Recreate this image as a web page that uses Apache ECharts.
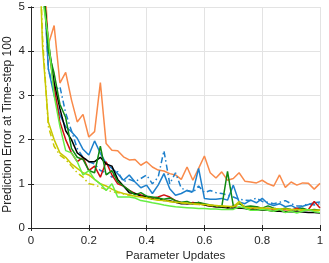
<!DOCTYPE html>
<html><head><meta charset="utf-8">
<script src="https://cdn.jsdelivr.net/npm/echarts@6/dist/echarts.min.js"></script>
<style>html,body{margin:0;padding:0;background:#fff}#c{width:329px;height:263px}</style>
</head><body><div id="c"></div>
<script>
const xs = [0.02,0.04,0.06,0.08,0.10,0.12,0.14,0.16,0.18,0.20,0.22,0.24,0.26,0.28,0.30,0.32,0.34,0.36,0.38,0.40,0.42,0.44,0.46,0.48,0.50,0.52,0.54,0.56,0.58,0.60,0.62,0.64,0.66,0.68,0.70,0.72,0.74,0.76,0.78,0.80,0.82,0.84,0.86,0.88,0.90,0.92,0.94,0.96,0.98,1.00];
const xTicks = [0,0.2,0.4,0.6,0.8,1];
const yTicks = [0,1,2,3,4,5];
const orange = [9,6.5,4.15,4.58,3.28,3.52,2.90,2.40,2.57,2.06,2.18,3.29,1.91,1.76,1.75,1.61,1.54,1.55,1.42,1.50,1.38,1.31,1.29,1.23,1.20,1.10,1.38,1.08,1.35,1.63,1.25,1.13,1.27,1.08,1.12,1.25,1.06,1.04,1.02,1.08,1.00,0.95,1.20,0.92,1.04,0.97,1.02,1.01,0.88,1.01];
const blue = [9,6.0,3.6,3.0,2.56,2.29,2.18,2.03,1.78,1.65,1.97,1.69,1.46,1.35,1.23,1.08,1.20,1.04,0.91,0.97,0.78,0.97,1.23,0.89,0.74,0.78,0.85,0.82,1.35,0.67,0.65,0.65,0.67,0.63,0.97,0.59,0.55,0.63,0.57,0.67,0.55,0.51,0.55,0.48,0.51,0.44,0.49,0.53,0.57,0.59];
const blueDash = [9,6.2,3.6,3.1,3.2,2.6,2.2,1.8,1.6,1.5,1.45,1.3,1.25,1.15,1.28,1.05,1.1,1.05,1.12,1.2,1.0,1.15,1.75,1.0,1.25,0.9,0.85,0.8,0.95,0.8,0.85,0.8,0.78,0.75,0.7,0.65,0.63,0.62,0.68,0.6,0.58,0.55,0.58,0.62,0.55,0.5,0.5,0.55,0.52,0.55];
const green = [9,5.8,4.0,3.5,2.8,2.5,1.8,1.6,1.55,1.3,1.25,1.85,1.2,1.3,1.05,0.95,0.85,0.75,0.8,0.72,0.7,0.68,0.65,0.68,0.62,0.58,0.6,0.55,0.58,0.55,0.52,0.5,0.48,1.28,0.5,0.55,0.48,0.5,0.48,0.45,0.5,0.45,0.42,0.45,0.42,0.4,0.45,0.4,0.42,0.4];
const red = [9,5.6,4.1,3.2,2.4,2.0,1.7,1.5,1.6,1.3,1.4,1.15,1.5,1.2,1.0,0.95,0.85,0.78,0.75,0.7,0.68,0.7,0.75,0.7,0.62,0.58,0.55,0.58,0.55,0.52,0.5,0.48,0.5,0.45,0.5,0.45,0.45,0.42,0.48,0.42,0.45,0.42,0.4,0.42,0.4,0.45,0.4,0.42,0.6,0.45];
const black = [9,5.6,4.2,3.3,2.7,2.2,2.0,1.7,1.6,1.5,1.5,1.6,1.45,1.4,1.1,0.95,0.8,0.78,0.72,0.72,0.65,0.68,0.62,0.62,0.58,0.55,0.55,0.55,0.58,0.52,0.5,0.48,0.47,0.46,0.45,0.45,0.44,0.42,0.42,0.4,0.4,0.38,0.38,0.37,0.37,0.36,0.36,0.35,0.35,0.34];
const yellow = [8,4.1,2.4,2.0,1.7,1.6,1.45,1.35,1.25,1.2,1.1,1.0,0.95,0.88,0.82,0.78,0.75,0.72,0.7,0.68,0.65,0.63,0.62,0.6,0.58,0.57,0.56,0.55,0.54,0.53,0.52,0.51,0.5,0.49,0.48,0.6,0.47,0.46,0.45,0.45,0.44,0.44,0.43,0.43,0.42,0.42,0.41,0.41,0.4,0.4];
const yellowDash = [8,4.3,2.3,1.85,1.65,1.55,1.4,1.25,1.15,1.0,0.98,0.92,0.87,0.82,0.8,0.77,0.74,0.72,0.7,0.68,0.66,0.64,0.62,0.6,0.58,0.57,0.55,0.54,0.53,0.52,0.51,0.5,0.49,0.48,0.47,0.55,0.46,0.45,0.44,0.44,0.43,0.43,0.42,0.42,0.41,0.41,0.4,0.4,0.39,0.39];
const lightGreen = [9,5.2,4.3,3.0,2.3,1.75,1.7,1.5,1.2,1.3,1.1,1.0,0.85,1.0,0.7,0.7,0.7,0.68,0.62,0.6,0.57,0.55,0.52,0.5,0.48,0.47,0.46,0.45,0.44,0.44,0.43,0.43,0.42,0.42,0.42,0.48,0.45,0.4,0.4,0.42,0.4,0.38,0.42,0.35,0.38,0.34,0.38,0.42,0.37,0.35];

const series = [
  {d: orange, c: '#F98A4A'},
  {d: blue, c: '#1E80CC'},
  {d: blueDash, c: '#1E80CC', dash: [6,3,1.5,3]},
  {d: red, c: '#D01010'},
  {d: black, c: '#000000'},
  {d: green, c: '#108A10'},
  {d: yellow, c: '#C8C800'},
  {d: yellowDash, c: '#C8C800', dash: [6,3,1.5,3]},
  {d: lightGreen, c: '#66EE44'}
].map(s => ({
  type: 'line', showSymbol: false, silent: true, animation: false,
  data: xs.map((x,i) => [x, s.d[i]]),
  lineStyle: {color: s.c, width: 1.5, type: s.dash || 'solid'},
  itemStyle: {color: s.c}
}));

const font = 'Liberation Sans, Arial, sans-serif';
const axCommon = {
  type: 'value',
  axisLine: {show: true, lineStyle: {color: '#262626', width: 1}},
  axisTick: {show: true, inside: true, length: 3, lineStyle: {color: '#262626'}},
};
const chart = echarts.init(document.getElementById('c'), null, {renderer: 'canvas'});
chart.setOption({
  animation: false,
  grid: {left: 31, right: 9, top: 7, bottom: 35, show: false, outerBoundsMode: 'none', containLabel: false},
  xAxis: [
    Object.assign({}, axCommon, {min: xTicks[0], max: xTicks[xTicks.length-1], interval: 0.2, position: 'bottom',
      name: 'Parameter Updates', nameLocation: 'middle', nameGap: 22, nameMoveOverlap: false,
      nameTextStyle: {fontFamily: font, fontSize: 11.5, color: '#262626'},
      axisLabel: {fontFamily: font, fontSize: 11.5, color: '#262626', margin: 7},
      splitLine: {show: true, lineStyle: {color: '#E3E3E3', width: 1}}}),
    Object.assign({}, axCommon, {min: 0, max: 1, interval: 0.2, position: 'top',
      axisLabel: {show: false}, splitLine: {show: false}})
  ],
  yAxis: [
    Object.assign({}, axCommon, {min: yTicks[0], max: yTicks[yTicks.length-1], interval: 1, position: 'left',
      name: 'Prediction Error at Time-step 100', nameLocation: 'middle', nameGap: 17, nameMoveOverlap: false,
      nameTextStyle: {fontFamily: font, fontSize: 12, color: '#262626', padding: [0, 14, 0, 0]},
      axisLabel: {fontFamily: font, fontSize: 11.5, color: '#262626', margin: 6},
      splitLine: {show: true, lineStyle: {color: '#E3E3E3', width: 1}}}),
    Object.assign({}, axCommon, {min: 0, max: 5, interval: 1, position: 'right',
      axisLabel: {show: false}, splitLine: {show: false}})
  ],
  series: series
});
</script></body></html>
